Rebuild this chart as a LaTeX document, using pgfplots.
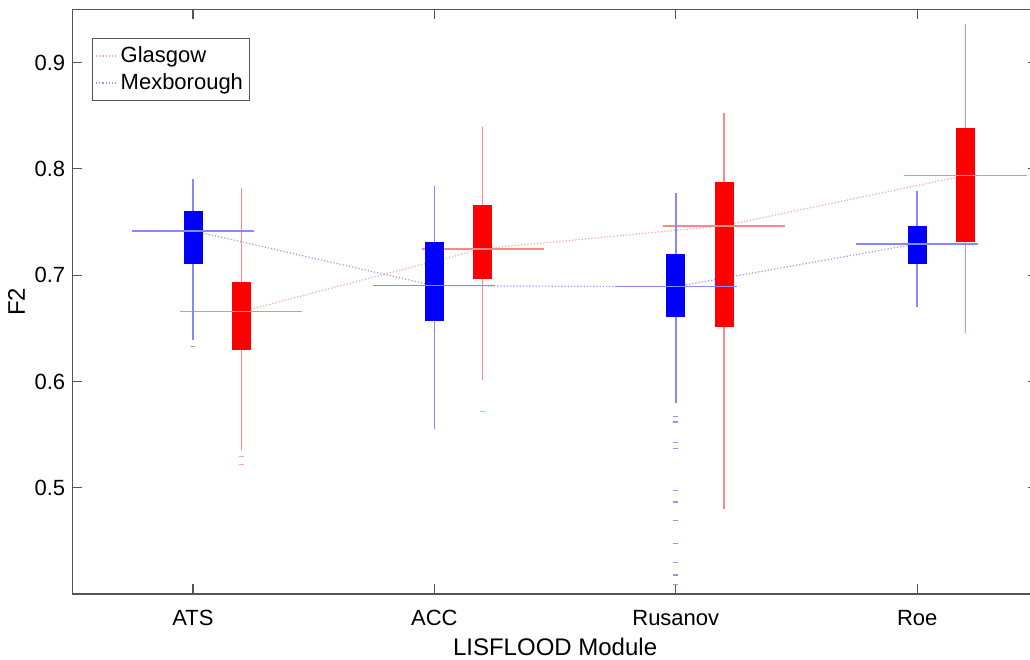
\documentclass[border=0pt]{standalone}
\usepackage{pgfplots}
\pgfplotsset{compat=1.18}
\usepgfplotslibrary{statistics}
\usepackage{fontspec}
\setmainfont{Liberation Sans}
\definecolor{bbox}{RGB}{0,0,255}
\definecolor{rbox}{RGB}{255,0,0}
\definecolor{bwhisk}{RGB}{135,135,255}
\definecolor{rwhisk}{RGB}{255,135,135}
\definecolor{bout}{RGB}{150,150,235}
\definecolor{rout}{RGB}{250,170,170}
\definecolor{bdot}{RGB}{150,150,245}
\definecolor{rdot}{RGB}{255,165,165}
\definecolor{axgray}{RGB}{85,85,85}
\pgfplotsset{
  boxplot/draw/lower whisker/.code={\draw[/pgfplots/boxplot/every whisker/.try] (boxplot cs:\pgfplotsboxplotvalue{lower whisker}) -- (boxplot cs:\pgfplotsboxplotvalue{lower quartile});},
  boxplot/draw/upper whisker/.code={\draw[/pgfplots/boxplot/every whisker/.try] (boxplot cs:\pgfplotsboxplotvalue{upper whisker}) -- (boxplot cs:\pgfplotsboxplotvalue{upper quartile});},
  boxplot/draw/median/.code={\draw[/pgfplots/boxplot/every median/.try] (boxplot box cs:\pgfplotsboxplotvalue{median},-2.89) -- (boxplot box cs:\pgfplotsboxplotvalue{median},3.89);},
  bluebp/.style={forget plot, draw=bwhisk, line width=0.7pt, mark=-, mark size=1.2pt, mark options={draw=bout},
    boxplot/draw direction=y,
    boxplot/box extend=0.0746,
    boxplot/every whisker/.style={draw=bwhisk, line width=0.75pt},
    boxplot/every box/.style={fill=bbox, draw=bbox, line width=0.3pt},
    boxplot/every median/.style={draw=bwhisk, line width=0.8pt}},
  redbp/.style={forget plot, draw=rwhisk, line width=0.7pt, mark=-, mark size=1.2pt, mark options={draw=rout},
    boxplot/draw direction=y,
    boxplot/box extend=0.0746,
    boxplot/every whisker/.style={draw=rwhisk, line width=0.75pt},
    boxplot/every box/.style={fill=rbox, draw=rbox, line width=0.3pt},
    boxplot/every median/.style={draw=rwhisk, line width=0.8pt}},
}
\begin{document}
\begin{tikzpicture}
\begin{axis}[
  scale only axis,
  width=482.8pt, height=292.35pt,
  xmin=0.5, xmax=4.5, ymin=0.40, ymax=0.95,
  xtick={1,2,3,4}, xticklabels={ATS,ACC,Rusanov,Roe},
  ytick={0.5,0.6,0.7,0.8,0.9},
  tick align=inside, major tick length=5pt,
  axis line style={axgray, line width=0.7pt},
  tick style={axgray, line width=0.6pt},
  /pgf/number format/assume math mode=true,
  ticklabel style={font=\fontsize{11}{13}\selectfont},
  xticklabel style={yshift=-4.5pt},
  label style={font=\fontsize{12}{14}\selectfont},
  xlabel={LISFLOOD Module},
  xlabel style={yshift=0.5pt},
  ylabel={F2},
  ylabel style={yshift=-2pt},
  legend style={at={(0.0204,0.951)}, anchor=north west, draw=axgray, line width=0.5pt,
    font=\fontsize{11}{13}\selectfont, inner xsep=1.5pt, inner ysep=2pt},
  legend cell align=left,
  legend image code/.code={\draw[#1] (0pt,0pt) -- (10pt,0pt);},
]
% median connecting lines
\addplot[rdot, densely dotted, line width=0.6pt] coordinates {(1.2,0.6657) (2.2,0.7249) (3.2,0.7465) (4.2,0.7938)};
\addlegendentry{Glasgow}
\addplot[bdot, densely dotted, line width=0.6pt] coordinates {(1,0.7418) (2,0.6901) (3,0.6892) (4,0.7296)};
\addlegendentry{Mexborough}
% Glasgow (red)
\addplot[redbp, boxplot prepared={draw position=1.2, lower whisker=0.536, lower quartile=0.630, median=0.6657, upper quartile=0.6936, upper whisker=0.782}]
  table[row sep=\\, y index=0] {y\\ 0.5297\\ 0.5219\\};
\addplot[redbp, boxplot prepared={draw position=2.2, lower whisker=0.6018, lower quartile=0.6974, median=0.7249, upper quartile=0.7653, upper whisker=0.8396}]
  table[row sep=\\, y index=0] {y\\ 0.572\\};
\addplot[redbp, boxplot prepared={draw position=3.2, lower whisker=0.4805, lower quartile=0.6516, median=0.7465, upper quartile=0.7872, upper whisker=0.8527}]
  coordinates {};
\addplot[redbp, boxplot prepared={draw position=4.2, lower whisker=0.6457, lower quartile=0.7318, median=0.7938, upper quartile=0.8386, upper whisker=0.9366}]
  coordinates {};
% Mexborough (blue)
\addplot[bluebp, boxplot prepared={draw position=1, lower whisker=0.6394, lower quartile=0.7108, median=0.7418, upper quartile=0.760, upper whisker=0.7904}]
  table[row sep=\\, y index=0] {y\\ 0.6328\\};
\addplot[bluebp, boxplot prepared={draw position=2, lower whisker=0.5555, lower quartile=0.6575, median=0.6901, upper quartile=0.7312, upper whisker=0.7835}]
  coordinates {};
\addplot[bluebp, boxplot prepared={draw position=3, lower whisker=0.5799, lower quartile=0.661, median=0.6892, upper quartile=0.720, upper whisker=0.7773}]
  table[row sep=\\, y index=0] {y\\ 0.5673\\ 0.562\\ 0.5426\\ 0.5367\\ 0.4972\\ 0.4868\\ 0.4693\\ 0.4476\\ 0.4295\\ 0.4179\\ 0.4091\\};
\addplot[bluebp, boxplot prepared={draw position=4, lower whisker=0.6701, lower quartile=0.7115, median=0.7296, upper quartile=0.7459, upper whisker=0.7788}]
  coordinates {};
\end{axis}
\pgfresetboundingbox
\useasboundingbox (-36.15pt,-32.5pt) rectangle (478.85pt,297.05pt);
\end{tikzpicture}
\end{document}
